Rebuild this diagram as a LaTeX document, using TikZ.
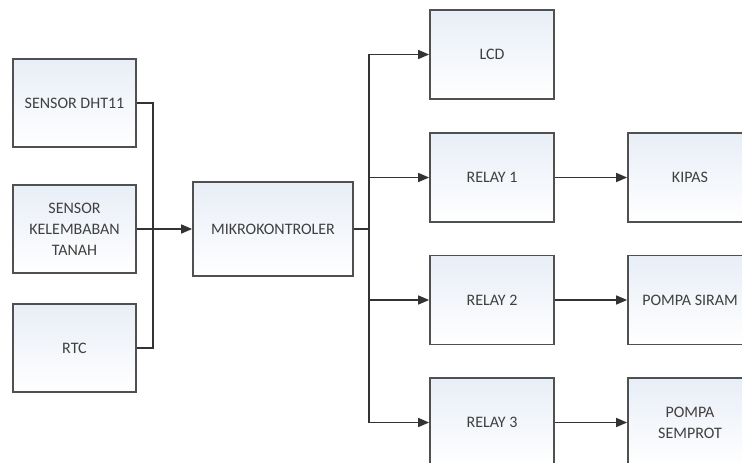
\documentclass[tikz,border=0pt]{standalone}
\usepackage{fontspec}
\setmainfont{Carlito}
\usetikzlibrary{arrows.meta}
\definecolor{boxline}{HTML}{505050}
\definecolor{boxtop}{HTML}{E8EEF7}
\definecolor{txt}{HTML}{404040}
\definecolor{wire}{HTML}{333333}
\tikzset{
  blk/.style={draw=boxline, line width=1.7pt, top color=boxtop, bottom color=white,
    text=txt, font=\fontsize{16}{21}\selectfont, align=center, inner sep=0pt},
  wirestyle/.style={draw=wire, line width=1.5pt},
  arr/.style={wirestyle, -{Triangle[length=11pt,width=9pt]}}
}
\begin{document}
\begin{tikzpicture}[x=1pt,y=-1pt]
\useasboundingbox (0,0) rectangle (742,463);
\clip (0,0) rectangle (742,463);
% left column
\node[blk, minimum width=123pt, minimum height=88pt] (dht) at (74.5,103) {SENSOR DHT11};
\node[blk, minimum width=123pt, minimum height=88pt] (kel) at (74.5,229) {SENSOR\\KELEMBABAN\\TANAH};
\node[blk, minimum width=123pt, minimum height=88pt] (rtc) at (74.5,348) {RTC};
% controller
\node[blk, minimum width=160pt, minimum height=94pt] (mcu) at (273,229) {MIKROKONTROLER};
% middle column
\node[blk, minimum width=124pt, minimum height=89pt] (lcd) at (492,54.5) {LCD};
\node[blk, minimum width=124pt, minimum height=89pt] (r1) at (492,177.5) {RELAY 1};
\node[blk, minimum width=124pt, minimum height=89pt] (r2) at (492,300) {RELAY 2};
\node[blk, minimum width=124pt, minimum height=89pt] (r3) at (492,422.5) {RELAY 3};
% right column
\node[blk, minimum width=124pt, minimum height=89pt] (kipas) at (690,177.5) {KIPAS};
\node[blk, minimum width=124pt, minimum height=89pt] (siram) at (690,300) {POMPA SIRAM};
\node[blk, minimum width=124pt, minimum height=89pt] (semprot) at (690,422.5) {POMPA\\SEMPROT};
% bus points
\coordinate (busL) at (153,229);
\coordinate (busR) at (369,229);
% inputs
\draw[wirestyle] (dht.east) -| (busL);
\draw[wirestyle] (rtc.east) -| (busL);
\draw[arr] (kel.east) -- (mcu.west);
% outputs
\draw[wirestyle] (mcu.east) -- (busR);
\draw[arr] (busR) |- (lcd.west);
\draw[arr] (busR) |- (r1.west);
\draw[arr] (busR) |- (r2.west);
\draw[arr] (busR) |- (r3.west);
\draw[arr] (r1.east) -- (kipas.west);
\draw[arr] (r2.east) -- (siram.west);
\draw[arr] (r3.east) -- (semprot.west);
\end{tikzpicture}
\end{document}
